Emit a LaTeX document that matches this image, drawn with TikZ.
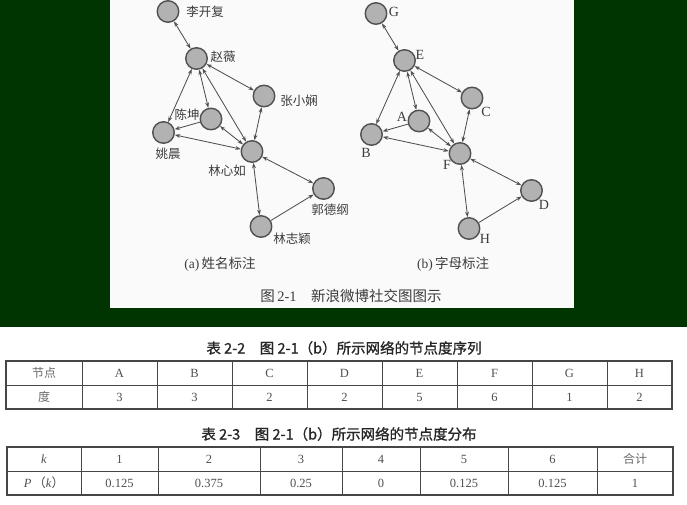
\documentclass[tikz,border=0pt]{standalone}
\usepackage{fontspec}
\setmainfont{Liberation Serif}
\newfontfamily\cjk{Noto Sans CJK SC}
\newfontfamily\cjkt[FakeBold=1]{Noto Sans CJK SC}
\usetikzlibrary{arrows.meta}
\definecolor{bggreen}{RGB}{0,52,0}
\definecolor{panelc}{RGB}{250,250,250}
\definecolor{vfill}{RGB}{178,178,178}
\definecolor{vborder}{RGB}{80,80,80}
\definecolor{edgec}{RGB}{80,80,80}
\definecolor{txt}{RGB}{60,60,60}
\definecolor{celltxt}{RGB}{80,80,80}
\definecolor{rulec}{RGB}{70,70,70}
\begin{document}
\begin{tikzpicture}[x=1pt,y=-1pt,
  vtx/.style={circle,draw=vborder,fill=vfill,line width=1.4pt,minimum size=21.5pt,inner sep=0pt},
  zlbl/.style={font=\fontsize{12.5}{13}\selectfont\cjk,text=txt,inner sep=0pt},
  llbl/.style={font=\fontsize{14}{14}\selectfont,text=txt,inner sep=0pt},
  biedge/.style={draw=edgec,line width=0.85pt,{Stealth[length=5.5pt,width=3.8pt]}-{Stealth[length=5.5pt,width=3.8pt]}},
  oneway/.style={draw=edgec,line width=0.85pt,-{Stealth[length=5.5pt,width=3.8pt]}},
  subcap/.style={font=\fontsize{13.5}{14}\selectfont,text=txt,inner sep=0pt},
  ttl/.style={font=\fontsize{14.5}{15}\selectfont\cjkt,text=black!85,inner sep=0pt},
  cell/.style={font=\fontsize{12.5}{13}\selectfont,text=celltxt,inner sep=0pt},
  zcell/.style={font=\fontsize{12}{13}\selectfont\cjk,text=celltxt!85,inner sep=0pt},
  outer/.style={draw=rulec,line width=1.3pt},
  inner/.style={draw=rulec,line width=0.6pt},
]
\useasboundingbox (0,0) rectangle (687,505);
\fill[bggreen] (0,0) rectangle (687,327);
\fill[white] (0,327) rectangle (687,505);
\fill[panelc] (110,0) rectangle (574,308);

% ---------- graph (a) ----------
\node[vtx] (lkf) at (168,11.5) {};
\node[vtx] (zw)  at (196.5,58.5) {};
\node[vtx] (zxx) at (264,96) {};
\node[vtx] (ck)  at (211,119) {};
\node[vtx] (yc)  at (163.5,132.5) {};
\node[vtx] (lxr) at (252,151.5) {};
\node[vtx] (gdg) at (323.5,188.5) {};
\node[vtx] (lzy) at (261,226.5) {};
\node[zlbl] (tlkf) at (205,12) {李开复};
\node[zlbl] (tzw)  at (223,57) {赵薇};
\node[zlbl] (tzxx) at (299,101) {张小娴};
\node[zlbl] (tck)  at (187,115) {陈坤};
\node[zlbl] (tyc)  at (168,154) {姚晨};
\node[zlbl] (tlxr) at (227,171) {林心如};
\node[zlbl] (tgdg) at (330,210) {郭德纲};
\node[zlbl] (tlzy) at (292,239) {林志颖};
\draw[biedge] (lkf) -- (zw);
\draw[biedge] (zw) -- (zxx);
\draw[biedge] (zw) -- (yc);
\draw[biedge] (zw) -- (ck);
\draw[biedge] (zw) -- (lxr);
\draw[oneway] (ck) -- (yc);
\draw[biedge] (ck) -- (lxr);
\draw[biedge] (yc) -- (lxr);
\draw[biedge] (zxx) -- (lxr);
\draw[biedge] (lxr) -- (gdg);
\draw[biedge] (lxr) -- (lzy);
\draw[oneway] (lzy) -- (gdg);
\node[subcap] (capa) at (220,264) {(a)\,{\cjk 姓名标注}};

% ---------- graph (b) ----------
\node[vtx] (G) at (376,13.5) {};
\node[vtx] (E) at (404.5,60.5) {};
\node[vtx] (C) at (472,98) {};
\node[vtx] (A) at (419,121) {};
\node[vtx] (B) at (371.5,134.5) {};
\node[vtx] (F) at (460,153.5) {};
\node[vtx] (D) at (531.5,190.5) {};
\node[vtx] (H) at (469,228.5) {};
\node[llbl] (tG) at (394,12) {G};
\node[llbl] (tE) at (420,55) {E};
\node[llbl] (tC) at (486,112) {C};
\node[llbl] (tA) at (402,117) {A};
\node[llbl] (tB) at (366,153) {B};
\node[llbl] (tF) at (447,165) {F};
\node[llbl] (tD) at (544,205) {D};
\node[llbl] (tH) at (485,239) {H};
\draw[biedge] (G) -- (E);
\draw[biedge] (E) -- (C);
\draw[biedge] (E) -- (B);
\draw[biedge] (E) -- (A);
\draw[biedge] (E) -- (F);
\draw[oneway] (A) -- (B);
\draw[biedge] (A) -- (F);
\draw[biedge] (B) -- (F);
\draw[biedge] (C) -- (F);
\draw[biedge] (F) -- (D);
\draw[biedge] (F) -- (H);
\draw[oneway] (H) -- (D);
\node[subcap] (capb) at (453,264) {(b)\,{\cjk 字母标注}};

\node[font=\fontsize{14.5}{15}\selectfont,text=txt,inner sep=0pt] (figcap) at (351,296) {{\cjk 图}\,2-1\quad{\cjk 新浪微博社交图图示}};

% ---------- table 2-2 ----------
\node[ttl] (t22) at (344,348) {表 2-2\quad 图 2-1（b）所示网络的节点度序列};
\draw[outer] (6,361) rectangle (672,409);
\draw[inner] (6,385) -- (672,385);
\foreach \x in {82,157,232,307,382,457,532,607} \draw[inner] (\x,361) -- (\x,409);
\node[zcell] (h0) at (44,373) {节点};
\node[cell] (h1) at (119.5,373) {A};
\node[cell] (h2) at (194.5,373) {B};
\node[cell] (h3) at (269.5,373) {C};
\node[cell] (h4) at (344.5,373) {D};
\node[cell] (h5) at (419.5,373) {E};
\node[cell] (h6) at (494.5,373) {F};
\node[cell] (h7) at (569.5,373) {G};
\node[cell] (h8) at (639.5,373) {H};
\node[zcell] (d0) at (44,397) {度};
\node[cell] (d1) at (119.5,397) {3};
\node[cell] (d2) at (194.5,397) {3};
\node[cell] (d3) at (269.5,397) {2};
\node[cell] (d4) at (344.5,397) {2};
\node[cell] (d5) at (419.5,397) {5};
\node[cell] (d6) at (494.5,397) {6};
\node[cell] (d7) at (569.5,397) {1};
\node[cell] (d8) at (639.5,397) {2};

% ---------- table 2-3 ----------
\node[ttl] (t23) at (339,434) {表 2-3\quad 图 2-1（b）所示网络的节点度分布};
\draw[outer] (7,447) rectangle (673,495);
\draw[inner] (7,471) -- (673,471);
\foreach \x in {81,158,260,342,420,508,597} \draw[inner] (\x,447) -- (\x,495);
\node[cell] (k0) at (44,459) {\textit{k}};
\node[cell] (k1) at (119.5,459) {1};
\node[cell] (k2) at (209,459) {2};
\node[cell] (k3) at (301,459) {3};
\node[cell] (k4) at (381,459) {4};
\node[cell] (k5) at (464,459) {5};
\node[cell] (k6) at (552.5,459) {6};
\node[zcell] (k7) at (635,459) {合计};
\node[cell] (p0) at (44,483) {\textit{P}\,{\cjk （}\textit{k}{\cjk ）}};
\node[cell] (p1) at (119.5,483) {0.125};
\node[cell] (p2) at (209,483) {0.375};
\node[cell] (p3) at (301,483) {0.25};
\node[cell] (p4) at (381,483) {0};
\node[cell] (p5) at (464,483) {0.125};
\node[cell] (p6) at (552.5,483) {0.125};
\node[cell] (p7) at (635,483) {1};
\end{tikzpicture}
\end{document}
